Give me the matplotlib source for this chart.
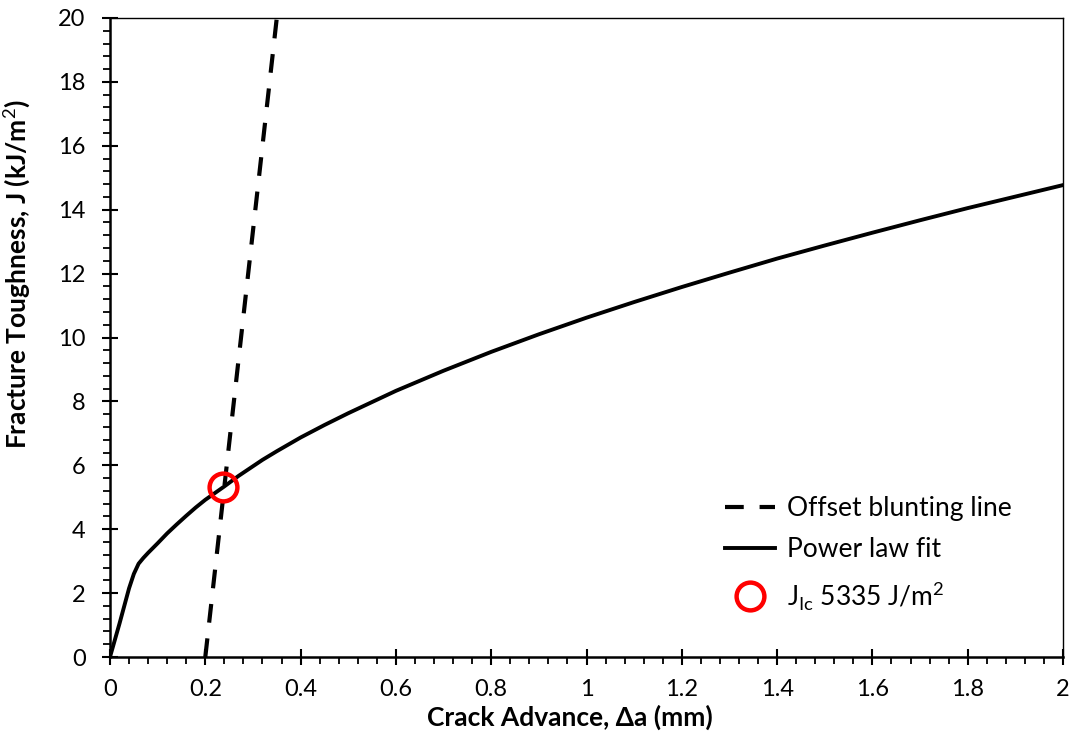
import matplotlib
matplotlib.use("Agg")
import matplotlib.pyplot as plt
from matplotlib.ticker import MultipleLocator
import numpy as np

plt.rcParams['font.family'] = ['Lato', 'DejaVu Sans']
plt.rcParams['mathtext.fontset'] = 'custom'
plt.rcParams['mathtext.rm'] = 'Lato'

# Power law fit curve (crack advance mm, J kJ/m^2)
fit_da = [0.0, 0.02, 0.04, 0.05, 0.06, 0.07, 0.08, 0.10, 0.12, 0.14, 0.16, 0.18, 0.20, 0.22,
          0.24, 0.27, 0.30, 0.32, 0.35, 0.40, 0.45, 0.50, 0.60, 0.70, 0.80, 0.90, 1.00, 1.10,
          1.20, 1.30, 1.40, 1.50, 1.60, 1.70, 1.80, 1.90, 2.00]
fit_J = [0.0, 1.05, 2.15, 2.60, 2.92, 3.10, 3.26, 3.56, 3.87, 4.15, 4.42, 4.68, 4.92, 5.13,
         5.34, 5.67, 5.97, 6.17, 6.44, 6.87, 7.26, 7.63, 8.33, 8.96, 9.55, 10.10, 10.62, 11.11,
         11.58, 12.03, 12.47, 12.88, 13.28, 13.67, 14.05, 14.41, 14.77]

# Offset blunting line
blunt_da = [0.2, 0.35]
blunt_J = [0.0, 20.0]

# Jic point
jic_da = [0.238]
jic_J = [5.335]

fig = plt.figure(figsize=(10.73, 7.36), dpi=100)
ax = fig.add_axes([110/1073, 1-657/736, (1063-110)/1073, (657-18)/736])

ax.plot(blunt_da, blunt_J, color='black', lw=3.0, linestyle=(0, (4.5, 3.8)),
        label='Offset blunting line', zorder=2)
ax.plot(fit_da, fit_J, color='black', lw=2.8, label='Power law fit', zorder=3,
        solid_joinstyle='round')
ax.plot(jic_da, jic_J, linestyle='none', marker='o', markersize=20, markerfacecolor='none',
        markeredgecolor='#ff0000', markeredgewidth=3.2,
        label=r'J$_{\mathrm{Ic}}$ 5335 J/m$^{2}$', zorder=4)

ax.set_xlim(0, 2)
ax.set_ylim(0, 20)
ax.xaxis.set_major_locator(MultipleLocator(0.2))
ax.xaxis.set_minor_locator(MultipleLocator(0.04))
ax.yaxis.set_major_locator(MultipleLocator(2))
ax.yaxis.set_minor_locator(MultipleLocator(0.4))

def fmt(v, p):
    s = f"{v:.1f}".rstrip('0').rstrip('.')
    return s
ax.xaxis.set_major_formatter(plt.FuncFormatter(fmt))

ax.tick_params(axis='both', which='major', direction='inout', length=11, width=1.5,
               labelsize=17, colors='black')
ax.tick_params(axis='both', which='minor', direction='out', length=5, width=1.3)
ax.tick_params(axis='x', which='major', pad=10)
ax.tick_params(axis='y', which='major', pad=12)

for s in ['left', 'bottom']:
    ax.spines[s].set_linewidth(1.8)
for s in ['top', 'right']:
    ax.spines[s].set_linewidth(1.0)

ax.set_xlabel('Crack Advance, Δa (mm)', fontsize=19, fontweight='bold')
ax.set_ylabel('Fracture Toughness, J (kJ/m$^{2}$)', fontsize=19, fontweight='bold')
ax.xaxis.set_label_coords((570-110)/953, -0.075)
ax.yaxis.set_label_coords(-0.082, (657-274)/639)

leg = ax.legend(loc='lower left', bbox_to_anchor=(0.62, 0.034), frameon=False, fontsize=19,
                handlelength=1.9, handletextpad=0.45, labelspacing=0.62)

fig.savefig('out.png', dpi=100)
